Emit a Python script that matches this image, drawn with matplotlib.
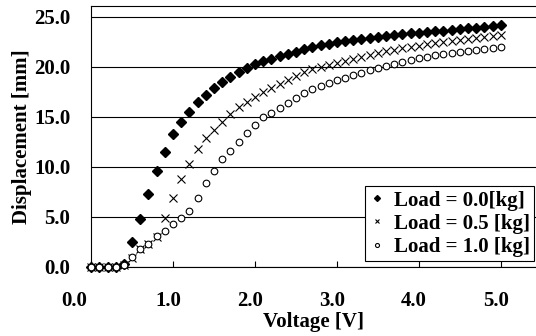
import numpy as np
import matplotlib
matplotlib.use("Agg")
import matplotlib.pyplot as plt
import matplotlib.transforms as mtransforms

# ====== DATA =======
voltage = np.round(np.arange(0, 5.01, 0.1), 1)

load_00 = [0.0, 0.0, 0.0, 0.0, 0.3, 2.5, 4.8, 7.3, 9.6, 11.5,
           13.3, 14.5, 15.5, 16.5, 17.2, 17.9, 18.5, 19.0, 19.5, 19.9,
           20.3, 20.6, 20.8, 21.1, 21.3, 21.5, 21.8, 22.0, 22.2, 22.3,
           22.5, 22.6, 22.7, 22.8, 22.9, 23.0, 23.1, 23.2, 23.3, 23.4,
           23.4, 23.5, 23.6, 23.6, 23.7, 23.8, 23.9, 23.9, 24.0, 24.1,
           24.2]

load_05 = [0.0, 0.0, 0.0, 0.0, 0.2, 0.9, 1.8, 2.3, 3.0, 4.9,
           6.9, 8.8, 10.3, 11.8, 12.9, 13.7, 14.5, 15.3, 16.0, 16.5,
           17.0, 17.5, 17.9, 18.3, 18.7, 19.1, 19.5, 19.8, 20.0, 20.2,
           20.4, 20.6, 20.8, 21.0, 21.2, 21.4, 21.6, 21.7, 21.9, 22.0,
           22.1, 22.3, 22.4, 22.5, 22.6, 22.7, 22.8, 22.9, 23.0, 23.1,
           23.2]

load_10 = [0.0, 0.0, 0.0, 0.0, 0.2, 1.0, 1.8, 2.3, 3.1, 3.6,
           4.3, 4.9, 5.6, 6.9, 8.4, 9.6, 10.8, 11.6, 12.5, 13.4,
           14.2, 15.0, 15.4, 15.9, 16.4, 16.9, 17.4, 17.8, 18.1, 18.4,
           18.7, 18.9, 19.2, 19.4, 19.7, 19.9, 20.1, 20.3, 20.5, 20.7,
           20.9, 21.0, 21.2, 21.3, 21.4, 21.5, 21.6, 21.7, 21.8, 21.9,
           22.0]

labels = ["Load = 0.0[kg]", "Load = 0.5 [kg]", "Load = 1.0 [kg]"]
x_ticks = [0, 1, 2, 3, 4, 5]
y_ticks = [0, 5, 10, 15, 20, 25]

# ====== STYLE =======
plt.rcParams['font.family'] = ['Liberation Serif', 'DejaVu Serif']
plt.rcParams['font.weight'] = 'bold'

fig = plt.figure(figsize=(5.36, 3.36), dpi=100)
ax = fig.add_axes([0.170, 0.2054, 0.830, 0.7768])

ax.plot(voltage, load_00, linestyle='none', marker='D', markersize=5.0,
        color='black', label=labels[0], clip_on=False, zorder=3)
ax.plot(voltage, load_05, linestyle='none', marker='x', markersize=6,
        markeredgewidth=0.8, color='black', label=labels[1], clip_on=False, zorder=3)
ax.plot(voltage, load_10, linestyle='none', marker='o', markersize=4.8,
        markeredgewidth=0.8, markerfacecolor='white', markeredgecolor='black',
        label=labels[2], clip_on=False, zorder=3)

ax.set_xlim(0, 5.43)
ax.set_ylim(0, 26.1)
ax.set_xticks(x_ticks)
ax.set_xticklabels([f"{v:.1f}" for v in x_ticks])
ax.set_yticks(y_ticks)
ax.set_yticklabels([f"{v:.1f}" for v in y_ticks])

ax.yaxis.grid(True, color='black', linewidth=0.8)
ax.set_axisbelow(True)

ax.tick_params(axis='x', direction='in', length=4, width=0.8, pad=17, labelsize=15)
ax.tick_params(axis='y', length=0, pad=15, labelsize=15)

# shift x tick labels left like the original (first one more)
for i, lbl in enumerate(ax.get_xticklabels()):
    dx = -17 if i == 0 else -5
    offset = mtransforms.ScaledTranslation(dx / 100, 0, fig.dpi_scale_trans)
    lbl.set_transform(lbl.get_transform() + offset)

for side in ['left', 'bottom', 'top']:
    ax.spines[side].set_linewidth(0.8)
    ax.spines[side].set_color('black')
ax.spines['right'].set_visible(False)

ax.set_xlabel("Voltage [V]", fontsize=15, fontweight='bold')
ax.set_ylabel("Displacement [mm]", fontsize=15, fontweight='bold')
ax.xaxis.set_label_coords(0.5, -0.172)
ax.yaxis.set_label_coords(-0.133, 0.5)

leg = ax.legend(loc='lower right', bbox_to_anchor=(534 / 536, 75 / 336),
                bbox_transform=fig.transFigure, prop={'size': 15, 'weight': 'bold'},
                markerscale=0.6, handlelength=0.8, handletextpad=0.4,
                labelspacing=0.15, borderpad=0.2, borderaxespad=0,
                fancybox=False, framealpha=1, edgecolor='black')
leg.get_frame().set_linewidth(0.8)
leg.set_zorder(5)

plt.savefig("out.png", dpi=100)
